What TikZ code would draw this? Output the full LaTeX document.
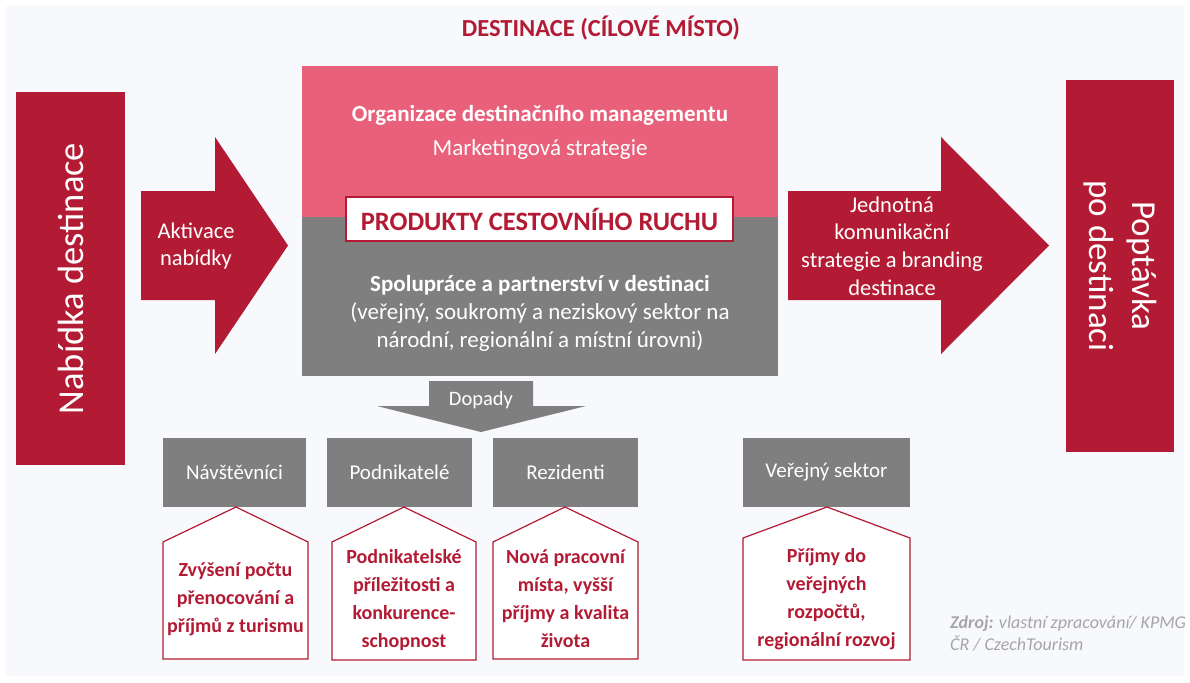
\documentclass[tikz,border=0pt]{standalone}
\usepackage{fontspec}
\setmainfont{Carlito}
\usetikzlibrary{positioning}
\definecolor{kred}{RGB}{179,27,52}
\definecolor{kpink}{RGB}{232,96,122}
\definecolor{kgray}{RGB}{127,127,127}
\definecolor{kbg}{RGB}{248,249,253}
\definecolor{ksrc}{RGB}{166,166,166}
\tikzset{
  bar/.style={fill=kred,text=white,inner sep=0pt},
  grp/.style={fill=kgray,text=white,inner sep=0pt,minimum height=69pt,font=\fontsize{21}{24}\selectfont},
  house/.style={draw=kred,fill=white,line width=1.2pt},
  housetxt/.style={text=kred,align=center,font=\bfseries\fontsize{20}{28}\selectfont},
  wtxt/.style={text=white,align=center,font=\fontsize{22.5}{27.7}\selectfont}
}
\begin{document}
\begin{tikzpicture}[x=1pt,y=-1pt,line join=miter]
  \fill[white] (0,0) rectangle (1190,682);
  \fill[kbg] (6,6) rectangle (1184,676);
  \useasboundingbox (0,0) rectangle (1190,682);
  \node[text=kred,font=\bfseries\fontsize{24.5}{28}\selectfont] (title) at (601,28) {DESTINACE (CÍLOVÉ MÍSTO)};
  % side bars
  \node[bar,rotate=90,minimum width=373pt,minimum height=109pt,font=\fontsize{36.5}{40}\selectfont] (nabidka) at (70.5,278.5) {Nabídka destinace};
  \node[bar,rotate=-90,minimum width=372pt,minimum height=108pt,align=center,font=\fontsize{35}{43}\selectfont] (poptavka) at (1120,266) {Poptávka\\po destinaci};
  % arrows
  \fill[kred] (141,191) -- (215,191) -- (215,137) -- (288,245.5) -- (215,354) -- (215,300) -- (141,300) -- cycle;
  \node[wtxt] (aktivace) at (196,246) {Aktivace\\nabídky};
  \fill[kred] (788,191) -- (941,191) -- (941,137) -- (1049,245.5) -- (941,354) -- (941,300) -- (788,300) -- cycle;
  \node[wtxt] (branding) at (892,246) {Jednotná\\komunikační\\strategie a branding\\destinace};
  % centre block
  \node[fill=kpink,minimum width=476pt,minimum height=151pt,inner sep=0pt] (odm) at (540,141.5) {};
  \node[fill=kgray,minimum width=476pt,minimum height=159pt,inner sep=0pt] (spol) at (540,296.5) {};
  \node[wtxt,font=\fontsize{23}{34}\selectfont] (odmtxt) at (540,132) {\textbf{Organizace destinačního managementu}\\Marketingová strategie};
  \node[wtxt,font=\fontsize{23}{28}\selectfont] (spoltxt) at (540,313) {\textbf{Spolupráce a partnerství v destinaci}\\(veřejný, soukromý a neziskový sektor na\\národní, regionální a místní úrovni)};
  \node[draw=kred,fill=white,line width=1.5pt,minimum width=387pt,minimum height=44pt,inner sep=0pt,text=kred,font=\bfseries\fontsize{26.5}{30}\selectfont] (produkty) at (539.5,219) {PRODUKTY CESTOVNÍHO RUCHU};
  % impacts
  \fill[kgray] (429,381) -- (533,381) -- (533,406) -- (586,406) -- (481,432) -- (377,406) -- (429,406) -- cycle;
  \node[text=white,font=\fontsize{20.5}{24}\selectfont] (dopady) at (481,400) {Dopady};
  \node[grp,minimum width=143pt] (navst) at (234.5,472.5) {Návštěvníci};
  \node[grp,minimum width=145pt] (podn) at (399.5,472.5) {Podnikatelé};
  \node[grp,minimum width=145pt] (rez) at (565.5,472.5) {Rezidenti};
  \node[grp,minimum width=167pt] (ver) at (826.5,472.5) {Veřejný sektor};
  \draw[house] (163,542) -- (236,507) -- (308,542) -- (308,659) -- (163,659) -- cycle;
  \draw[house] (332,542) -- (404,507) -- (476,542) -- (476,660) -- (332,660) -- cycle;
  \draw[house] (493,542) -- (565,507) -- (638,542) -- (638,659) -- (493,659) -- cycle;
  \draw[house] (743,538) -- (827,507) -- (910,538) -- (910,660) -- (743,660) -- cycle;
  \node[housetxt] (navsttxt) at (235.5,599) {Zvýšení počtu\\přenocování a\\příjmů z turismu};
  \node[housetxt] (podntxt) at (404,600) {Podnikatelské\\příležitosti a\\konkurence-\\schopnost};
  \node[housetxt] (reztxt) at (565.5,599) {Nová pracovní\\místa, vyšší\\příjmy a kvalita\\života};
  \node[housetxt] (vertxt) at (826.5,599) {Příjmy do\\veřejných\\rozpočtů,\\regionální rozvoj};
  % source
  \node[anchor=north west,text=ksrc,align=left,inner sep=0pt,font=\itshape\fontsize{18}{22}\selectfont] (zdroj) at (950,616) {\textbf{Zdroj:} vlastní zpracování/ KPMG\\ČR / CzechTourism};
\end{tikzpicture}
\end{document}
